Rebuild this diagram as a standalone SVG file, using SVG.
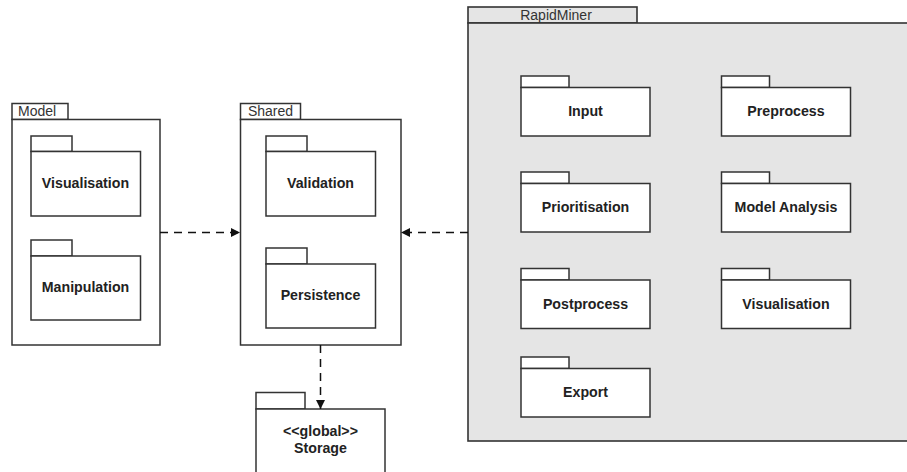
<svg xmlns="http://www.w3.org/2000/svg" width="907" height="472" viewBox="0 0 907 472">
<defs>
<style>
.box{fill:#ffffff;stroke:#333333;stroke-width:1.5}
.grey{fill:#e5e5e5;stroke:#333333;stroke-width:1.6}
.title{font-family:"Liberation Sans",Arial,sans-serif;font-size:14px;fill:#333333}
.name{font-family:"Liberation Sans",Arial,sans-serif;font-size:14.2px;font-weight:bold;fill:#222222;text-anchor:middle}
.dep{fill:none;stroke:#111111;stroke-width:1.5;stroke-dasharray:8,6}
</style>
<marker id="arr" viewBox="0 0 10 10" refX="10" refY="5" markerWidth="9" markerHeight="9" markerUnits="userSpaceOnUse" orient="auto">
<path d="M0,0 L10,5 L0,10 Z" fill="#111111"/>
</marker>
</defs>
<rect width="907" height="472" fill="#ffffff"/>

<g id="rapidminer">
<rect class="grey" x="468" y="7" width="169" height="16"/>
<rect class="grey" x="468" y="23" width="445" height="418"/>
<text class="title" x="556" y="20" text-anchor="middle">RapidMiner</text>
</g>
<g id="rm-input">
<rect class="box" x="521" y="76" width="48" height="11.5"/>
<rect class="box" x="521" y="87.5" width="129" height="48.5"/>
<text class="name" x="585.5" y="116">Input</text>
</g>
<g id="rm-preprocess">
<rect class="box" x="721.5" y="76" width="48" height="11.5"/>
<rect class="box" x="721.5" y="87.5" width="129" height="48.5"/>
<text class="name" x="786" y="116">Preprocess</text>
</g>
<g id="rm-prioritisation">
<rect class="box" x="521" y="172" width="48" height="11.5"/>
<rect class="box" x="521" y="183.5" width="129" height="48.5"/>
<text class="name" x="585.5" y="212">Prioritisation</text>
</g>
<g id="rm-modelanalysis">
<rect class="box" x="721.5" y="172" width="48" height="11.5"/>
<rect class="box" x="721.5" y="183.5" width="129" height="48.5"/>
<text class="name" x="786" y="212">Model Analysis</text>
</g>
<g id="rm-postprocess">
<rect class="box" x="521" y="268.5" width="48" height="11.5"/>
<rect class="box" x="521" y="280" width="129" height="48.5"/>
<text class="name" x="585.5" y="308.5">Postprocess</text>
</g>
<g id="rm-visualisation">
<rect class="box" x="721.5" y="268.5" width="48" height="11.5"/>
<rect class="box" x="721.5" y="280" width="129" height="48.5"/>
<text class="name" x="786" y="308.5">Visualisation</text>
</g>
<g id="rm-export">
<rect class="box" x="521" y="357" width="48" height="11.5"/>
<rect class="box" x="521" y="368.5" width="129" height="48.5"/>
<text class="name" x="585.5" y="397">Export</text>
</g>

<g id="model">
<rect class="box" x="12" y="103.5" width="56" height="16"/>
<rect class="box" x="12" y="119.5" width="148" height="225.5"/>
<text class="title" x="18" y="116">Model</text>
</g>
<g id="model-visualisation">
<rect class="box" x="31" y="136" width="41" height="15.5"/>
<rect class="box" x="31" y="151.5" width="109.5" height="64.5"/>
<text class="name" x="85.5" y="188">Visualisation</text>
</g>
<g id="model-manipulation">
<rect class="box" x="31" y="240" width="41" height="16"/>
<rect class="box" x="31" y="256" width="109.5" height="64"/>
<text class="name" x="85.5" y="292">Manipulation</text>
</g>

<g id="shared">
<rect class="box" x="240.5" y="103.5" width="60" height="16"/>
<rect class="box" x="240.5" y="119.5" width="160.5" height="225.5"/>
<text class="title" x="270.5" y="116" text-anchor="middle">Shared</text>
</g>
<g id="shared-validation">
<rect class="box" x="266" y="136" width="41" height="15.5"/>
<rect class="box" x="266" y="151.5" width="109.5" height="64.5"/>
<text class="name" x="320.5" y="188">Validation</text>
</g>
<g id="shared-persistence">
<rect class="box" x="266" y="248" width="41" height="16"/>
<rect class="box" x="266" y="264" width="109.5" height="64"/>
<text class="name" x="320.5" y="300">Persistence</text>
</g>

<g id="storage">
<rect class="box" x="256" y="392.5" width="49" height="16.5"/>
<rect class="box" x="256" y="409" width="129" height="70"/>
<text class="name" x="320.5" y="436">&lt;&lt;global&gt;&gt;</text>
<text class="name" x="320.5" y="453">Storage</text>
</g>

<g id="connectors">
<path class="dep" d="M160,232.5 L240,232.5" marker-end="url(#arr)"/>
<path class="dep" d="M468,232.5 L401,232.5" marker-end="url(#arr)"/>
<path class="dep" d="M320.5,345 L320.5,409" marker-end="url(#arr)"/>
</g>
</svg>
